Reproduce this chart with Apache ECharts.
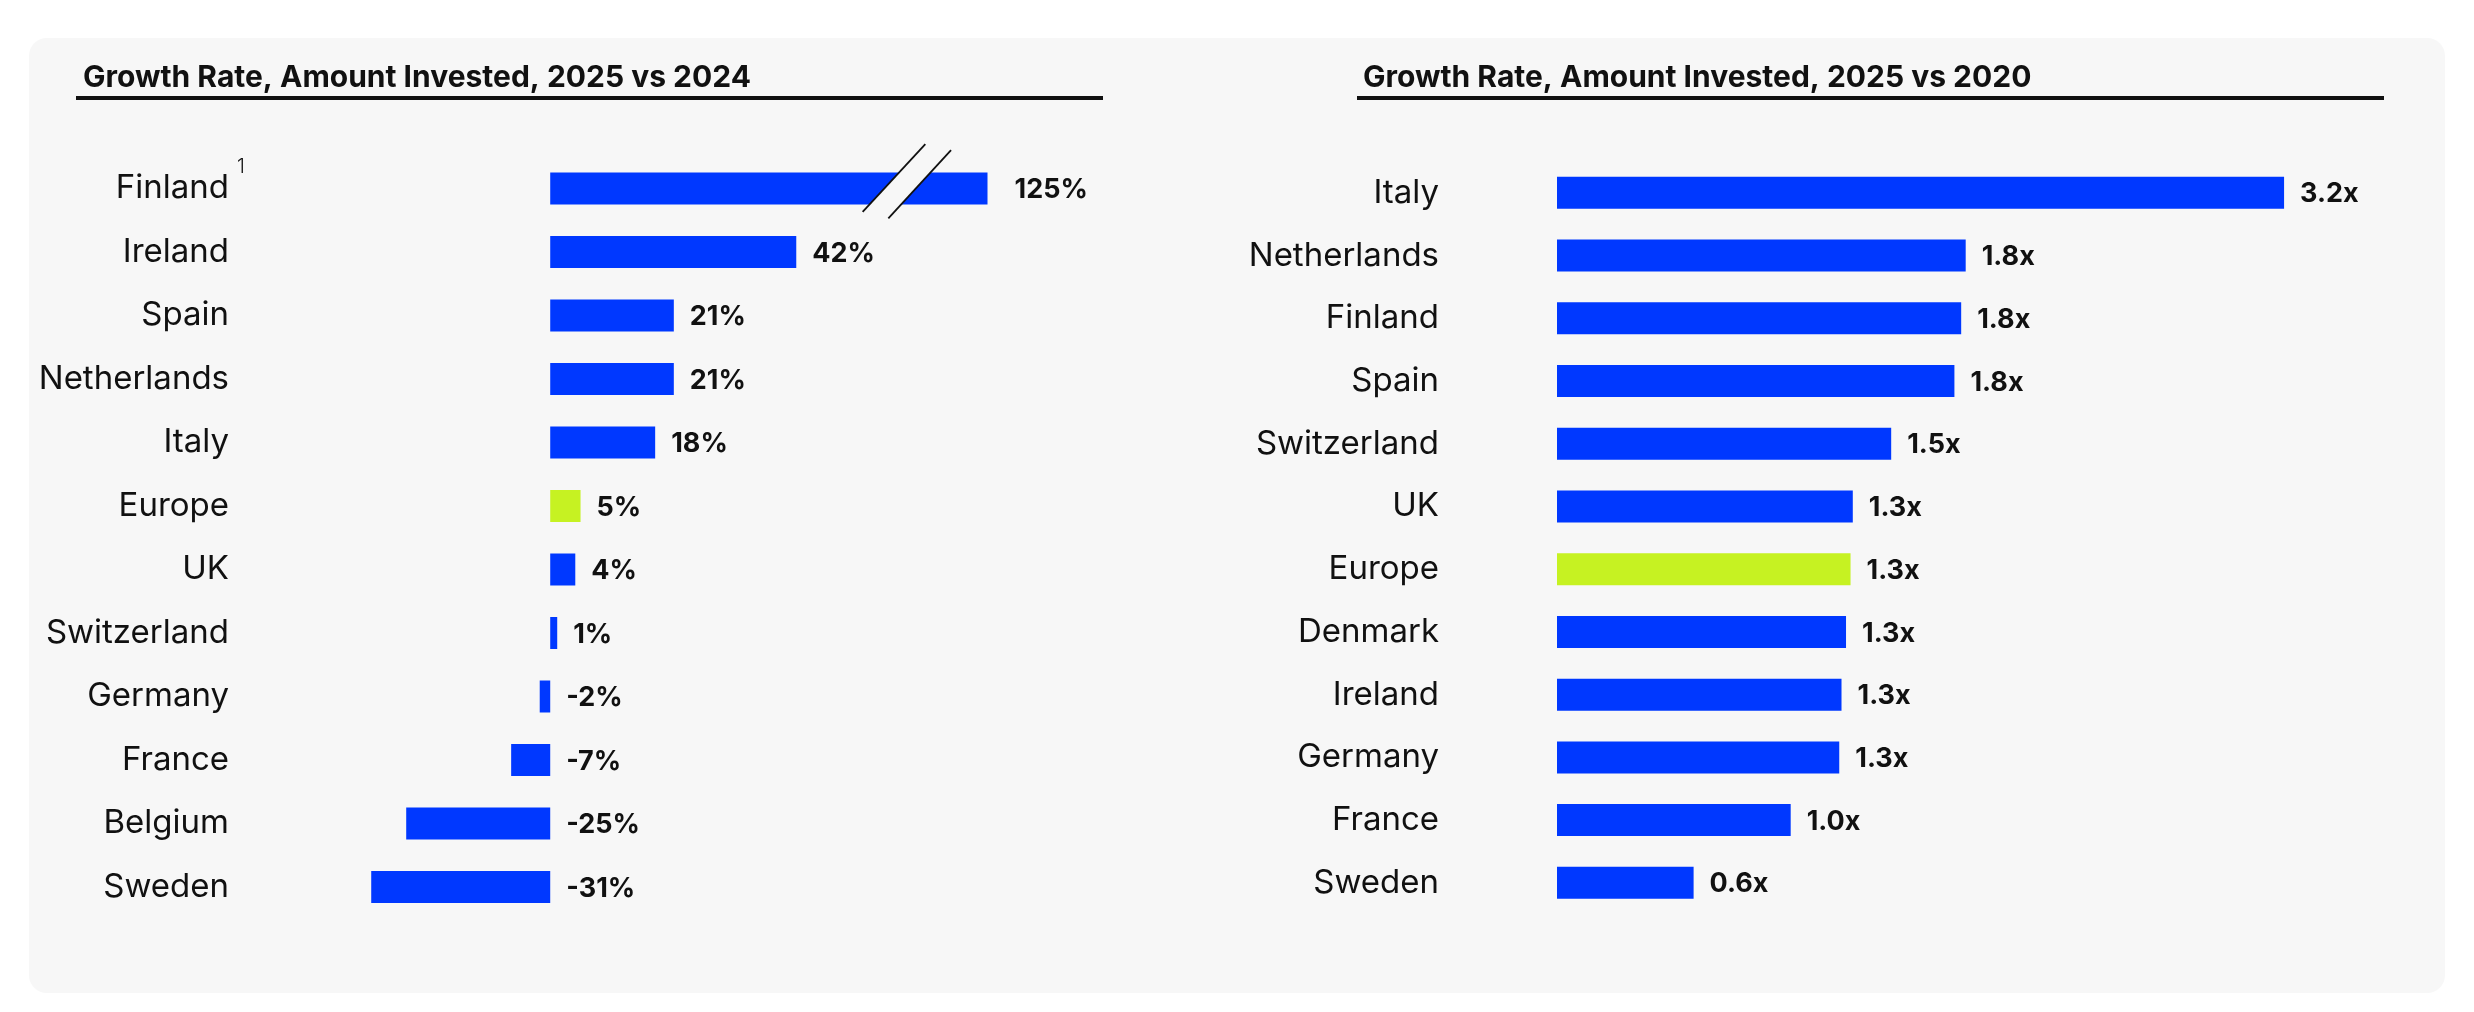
<!DOCTYPE html>
<html>
<head>
<meta charset="utf-8">
<script src="https://cdn.jsdelivr.net/npm/echarts@6/dist/echarts.min.js"></script>
<style>
html,body{margin:0;padding:0;background:#ffffff;}
#chart{width:2474px;height:1012px;}
</style>
</head>
<body>
<div id="chart"></div>
<script>
// ---------------- data ----------------
const leftTitle = 'Growth Rate, Amount Invested, 2025 vs 2024';
const rightTitle = 'Growth Rate, Amount Invested, 2025 vs 2020';

const leftCategories = ['Finland', 'Ireland', 'Spain', 'Netherlands', 'Italy', 'Europe', 'UK', 'Switzerland', 'Germany', 'France', 'Belgium', 'Sweden'];
const leftValues = [125, 42.2, 21.2, 21.2, 18.0, 5.2, 4.3, 1.2, -1.8, -6.7, -24.7, -30.7];

const rightCategories = ['Italy', 'Netherlands', 'Finland', 'Spain', 'Switzerland', 'UK', 'Europe', 'Denmark', 'Ireland', 'Germany', 'France', 'Sweden'];
const rightValues = [3.22, 1.81, 1.79, 1.76, 1.48, 1.31, 1.30, 1.28, 1.26, 1.25, 1.035, 0.605];

const highlightCategory = 'Europe';
const footnoteCategory = 'Finland';
const footnoteMark = '1';

// left axis is broken: bars beyond the cap are cut at the cap
const leftAxisMin = -40;
const leftAxisCap = 75;
const leftBreakValue = 60;
const rightAxisMin = 0;
const rightAxisMax = 3.5;

// ---------------- style ----------------
const BLUE = '#0038FF';
const LIME = '#C6F222';
const BG = '#F7F7F7';
const INK = '#111111';
const FONT = 'Inter, "Open Sans", "Noto Sans", sans-serif';

const fmtPct = v => Math.round(v) + '%';
const fmtX = v => (Math.round(v * 10) / 10).toFixed(1) + 'x';

function barData(cats, vals) {
  return vals.map((v, i) => ({
    value: v,
    itemStyle: { color: cats[i] === highlightCategory ? LIME : BLUE }
  }));
}

function labelSeries(idx, cats, vals, fmt, capMax) {
  return {
    type: 'custom',
    xAxisIndex: idx, yAxisIndex: idx,
    z: 4, silent: true,
    encode: { x: 0, y: 1 },
    data: vals.map((v, i) => [v, cats[i]]),
    renderItem: (params, api) => {
      const v = api.value(0);
      const pos = Math.min(Math.max(v, 0), capMax);
      const p = api.coord([pos, api.value(1)]);
      const gap = v > capMax ? 27 : 16;
      return {
        type: 'text',
        x: p[0] + gap, y: p[1] + 1.5,
        style: {
          text: fmt(v), fill: INK,
          fontFamily: FONT, fontSize: 27, fontWeight: 700,
          align: 'left', verticalAlign: 'middle'
        }
      };
    }
  };
}

const chart = echarts.init(document.getElementById('chart'), null, { renderer: 'canvas' });

const catLabel = (margin) => ({
  margin: margin, color: INK, fontFamily: FONT, fontSize: 33, fontWeight: 400,
  padding: [3, 0, 0, 0]
});

const option = {
  backgroundColor: '#ffffff',
  animation: false,
  title: [
    { text: leftTitle, left: 78, top: 58, textStyle: { fontFamily: FONT, fontSize: 30, fontWeight: 700, color: INK } },
    { text: rightTitle, left: 1358, top: 58, textStyle: { fontFamily: FONT, fontSize: 30, fontWeight: 700, color: INK } }
  ],
  grid: [
    { left: 317, top: 156.75, width: 670.5, height: 762 },
    { left: 1557, top: 161.5, width: 790.3, height: 752.7 }
  ],
  xAxis: [
    { gridIndex: 0, type: 'value', min: leftAxisMin, max: leftAxisCap, show: false },
    { gridIndex: 1, type: 'value', min: rightAxisMin, max: rightAxisMax, show: false }
  ],
  yAxis: [
    {
      gridIndex: 0, type: 'category', inverse: true, data: leftCategories,
      axisLine: { show: false }, axisTick: { show: false }, splitLine: { show: false },
      axisLabel: catLabel(88)
    },
    {
      gridIndex: 1, type: 'category', inverse: true, data: rightCategories,
      axisLine: { show: false }, axisTick: { show: false }, splitLine: { show: false },
      axisLabel: catLabel(118)
    }
  ],
  series: [
    {
      type: 'bar', xAxisIndex: 0, yAxisIndex: 0, barWidth: 32, clip: true, silent: true,
      data: barData(leftCategories, leftValues)
    },
    {
      type: 'bar', xAxisIndex: 1, yAxisIndex: 1, barWidth: 32, clip: true, silent: true,
      data: barData(rightCategories, rightValues)
    },
    labelSeries(0, leftCategories, leftValues, fmtPct, leftAxisCap),
    labelSeries(1, rightCategories, rightValues, fmtX, rightAxisMax),
    {
      // axis-break marker drawn across the truncated bar
      type: 'custom', xAxisIndex: 0, yAxisIndex: 0, z: 5, silent: true,
      encode: { x: 0, y: 1 },
      data: leftCategories
        .map((c, i) => [leftValues[i] > leftAxisCap ? leftBreakValue : null, c])
        .filter(d => d[0] !== null),
      renderItem: (params, api) => {
        const p = api.coord([api.value(0), api.value(1)]);
        const cx = p[0], cy = p[1];
        const l1 = [[cx + 25.3, cy - 44.4], [cx - 37.4, cy + 23.3]];
        const l2 = [[cx + 51.0, cy - 38.4], [cx - 11.7, cy + 29.9]];
        return {
          type: 'group',
          children: [
            { type: 'polygon', shape: { points: [l1[0], l2[0], l2[1], l1[1]] }, style: { fill: BG } },
            { type: 'line', shape: { x1: l1[0][0], y1: l1[0][1], x2: l1[1][0], y2: l1[1][1] }, style: { stroke: INK, lineWidth: 1.8 } },
            { type: 'line', shape: { x1: l2[0][0], y1: l2[0][1], x2: l2[1][0], y2: l2[1][1] }, style: { stroke: INK, lineWidth: 1.8 } }
          ]
        };
      }
    }
  ],
  graphic: [
    { type: 'rect', z: -10, shape: { x: 29, y: 38, width: 2416, height: 955, r: 18 }, style: { fill: BG } },
    { type: 'rect', shape: { x: 76, y: 96, width: 1027, height: 4 }, style: { fill: INK } },
    { type: 'rect', shape: { x: 1357, y: 96, width: 1027, height: 4 }, style: { fill: INK } }
  ]
};

chart.setOption(option);

// footnote superscript next to the footnoted category label
const fy = chart.convertToPixel({ yAxisIndex: 0 }, footnoteCategory);
const fx = chart.convertToPixel({ xAxisIndex: 0 }, leftAxisMin) - 88 + 8;
chart.setOption({
  graphic: option.graphic.concat([
    { type: 'text', x: fx, y: fy - 32, style: { text: footnoteMark, fill: INK, fontFamily: FONT, fontSize: 20, fontWeight: 300, align: 'left', verticalAlign: 'top' } }
  ])
});
</script>
</body>
</html>
